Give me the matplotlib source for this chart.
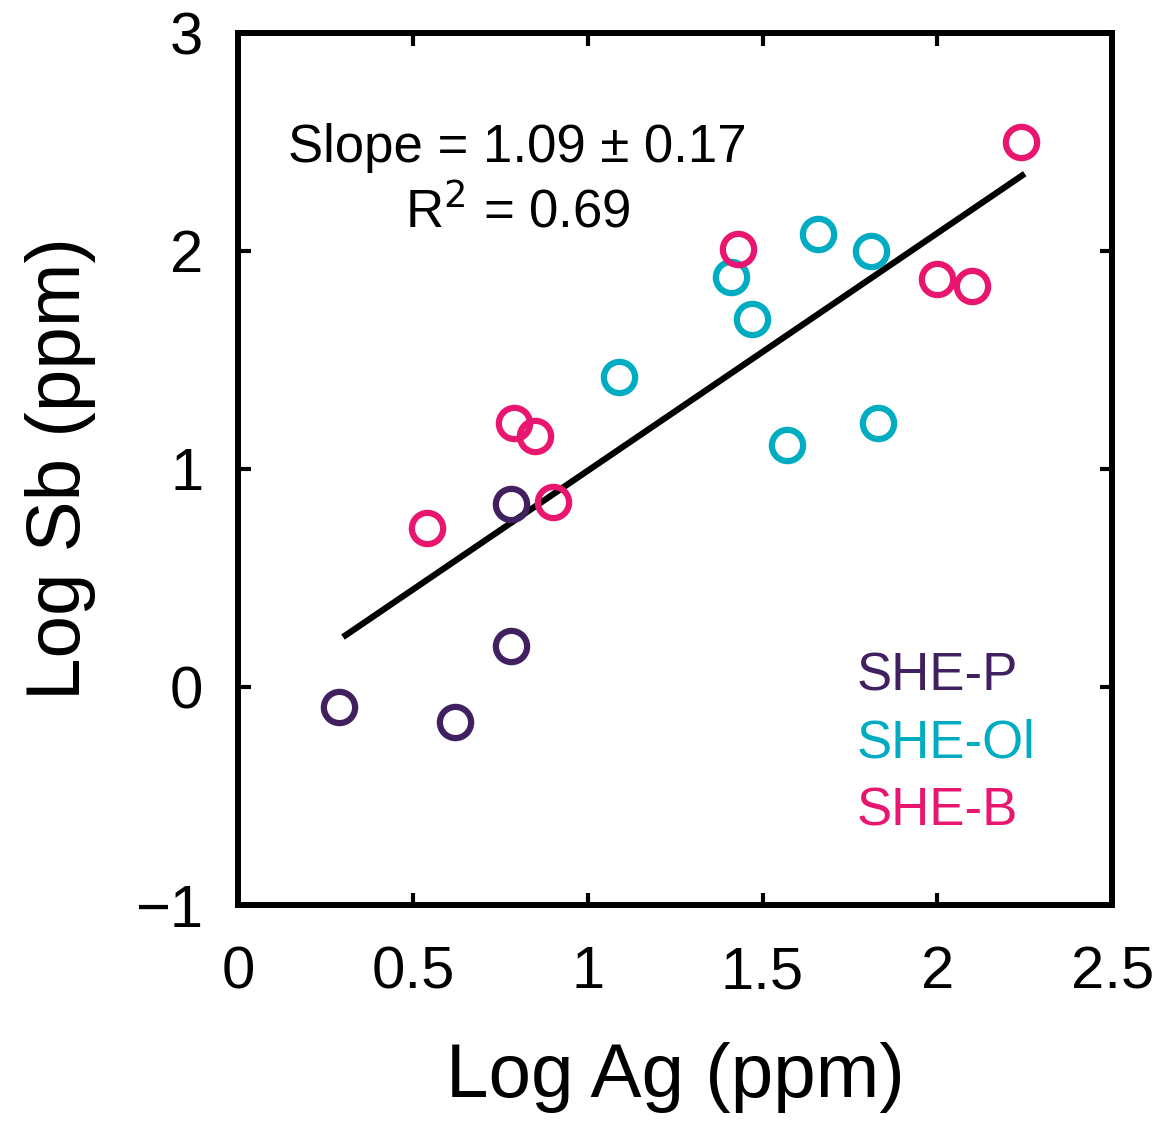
import numpy as np
import matplotlib
matplotlib.use("Agg")
from matplotlib import pyplot as plt

plt.rcParams['font.family'] = ['Liberation Sans', 'DejaVu Sans']

# Log Ag / Log Sb (ppm) par groupe
she_p_ag = [0.29, 0.62, 0.78, 0.78]
she_p_sb = [-0.09, -0.16, 0.19, 0.84]

she_ol_ag = [1.09, 1.41, 1.47, 1.66, 1.81, 1.57, 1.83]
she_ol_sb = [1.42, 1.88, 1.69, 2.08, 2.00, 1.11, 1.21]

she_b_ag = [0.54, 0.79, 0.85, 0.90, 1.43, 2.00, 2.10, 2.24]
she_b_sb = [0.73, 1.21, 1.15, 0.85, 2.01, 1.87, 1.84, 2.50]

groups = ["SHE-P", "SHE-Ol", "SHE-B"]
colors = ["#40205f", "#00acc1", "#e8166e"]

# droite de régression
slope = 1.09
intercept = -0.098
fit_x = [0.30, 2.25]

fig = plt.figure(figsize=(11.67, 11.22), dpi=100)
ax = fig.add_axes([0.204, 0.1934, 0.749, 0.7772])

for ag, sb, c in zip([she_p_ag, she_ol_ag, she_b_ag], [she_p_sb, she_ol_sb, she_b_sb], colors):
    ax.plot(ag, sb, 'o', ms=22.5, mfc='none', mec=c, mew=4.5, zorder=3)

fx = np.array(fit_x)
ax.plot(fx, slope * fx + intercept, color='black', lw=4.5, solid_capstyle='butt', zorder=2)

ax.text(0.80, 2.41, "Slope = 1.09 ± 0.17", ha='center', va='baseline', fontsize=38)
ax.text(0.80, 2.11, "R$^2$ = 0.69", ha='center', va='baseline', fontsize=38)

for i, (g, c) in enumerate(zip(groups, colors)):
    ax.text(1.77, -0.014 - 0.31 * i, g, color=c, ha='left', va='baseline', fontsize=38)

ax.set_xlim(0, 2.5)
ax.set_ylim(-1, 3)
ax.set_xticks([0, 0.5, 1, 1.5, 2, 2.5])
ax.set_xticklabels(["0", "0.5", "1", "1.5", "2", "2.5"])
ax.set_yticks([-1, 0, 1, 2, 3])
ax.set_yticklabels(["\u22121", "0", "1", "2", "3"])
ax.tick_params(direction='in', length=9, width=3, labelsize=43, top=True, right=True)
ax.tick_params(axis='x', pad=29)
ax.tick_params(axis='y', pad=25)
for s in ax.spines.values():
    s.set_linewidth(4.3)

ax.set_xlabel("Log Ag (ppm)", fontsize=55, labelpad=30)
ax.set_ylabel("Log Sb (ppm)", fontsize=55, labelpad=28)

plt.savefig("out.png", dpi=100)
